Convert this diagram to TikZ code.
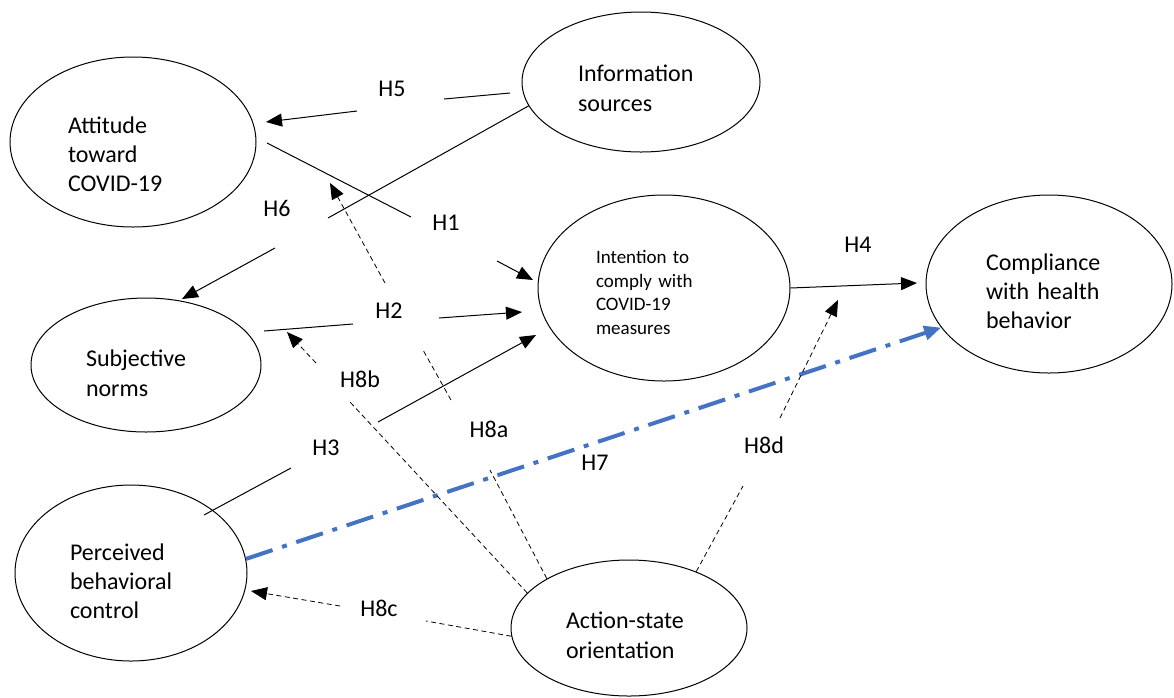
\documentclass[tikz,border=0pt]{standalone}
\usepackage{fontspec}
\setmainfont{Carlito}
\usetikzlibrary{shapes.geometric}
\usetikzlibrary{arrows.meta}
\definecolor{hblue}{HTML}{4472C4}

\begin{document}
\begin{tikzpicture}[x=1pt,y=-1pt,
  construct/.style={draw,ellipse,line width=1pt,inner sep=0pt,align=left,font=\fontsize{24}{29.3}\selectfont},
  lift/.style={execute at begin node={\rule{0pt}{#1}}},
  hyp/.style={inner sep=0pt,font=\fontsize{24}{29.3}\selectfont},
  effect/.style={line width=1pt},
  moderator/.style={line width=0.8pt,dash pattern=on 5pt off 3.5pt},
  tip/.style={-{Triangle[length=16pt,width=13pt]}}]
  \useasboundingbox (0,0) rectangle (1174,697);

  \node[construct,lift=41pt,minimum width=246pt,minimum height=170pt,text width=130pt] (att) at (133,142) {Attitude\\toward\\COVID-19};
  \node[construct,lift=29pt,minimum width=238pt,minimum height=140pt,text width=126pt] (info) at (641,82) {Information\\sources};
  \node[construct,lift=22pt,minimum width=252pt,minimum height=186pt,text width=136pt,font=\fontsize{19}{23.5}\selectfont] (intent) at (664,288) {Intention to\\comply with\\COVID-19\\measures};
  \node[construct,lift=31pt,minimum width=246pt,minimum height=178pt,text width=126pt] (comp) at (1049,284) {Compliance\\with health\\behavior};
  \node[construct,lift=33pt,minimum width=230pt,minimum height=134pt,text width=120pt] (subj) at (146,365) {Subjective\\norms};
  \node[construct,lift=33pt,minimum width=232pt,minimum height=176pt,text width=122pt] (pbc) at (131,573) {Perceived\\behavioral\\control};
  \node[construct,lift=31pt,minimum width=236pt,minimum height=136pt,text width=126pt] (aso) at (629,628) {Action-state\\orientation};

  \node[hyp] (H5) at (392,89) {H5};
  \node[hyp] (H6) at (277,208) {H6};
  \node[hyp] (H1) at (446,223) {H1};
  \node[hyp] (H2) at (389,311) {H2};
  \node[hyp] (H3) at (326,448) {H3};
  \node[hyp] (H4) at (858,245) {H4};
  \node[hyp] (H7) at (595,463) {H7};
  \node[hyp] (H8a) at (489,429) {H8a};
  \node[hyp] (H8b) at (360,379) {H8b};
  \node[hyp] (H8c) at (379,608) {H8c};
  \node[hyp] (H8d) at (764,445) {H8d};

  % gap ends of the broken paths
  \coordinate (h5a) at (510,93);
  \coordinate (h5b) at (444,99);
  \coordinate (h5c) at (357,111);
  \coordinate (h5d) at (266,122);
  \coordinate (h6b) at (328,218);
  \coordinate (h6c) at (275,248);
  \coordinate (h6d) at (182,299);
  \coordinate (h1a) at (267,143);
  \coordinate (h1b) at (411,217);
  \coordinate (h1c) at (497,261);
  \coordinate (h1d) at (533,280);
  \coordinate (h2a) at (264,331);
  \coordinate (h2b) at (353,324);
  \coordinate (h2c) at (439,318);
  \coordinate (h2d) at (522,312);
  \coordinate (h3a) at (204,515);
  \coordinate (h3b) at (291,468);
  \coordinate (h3c) at (378,422);
  \coordinate (h3d) at (536,335);
  \coordinate (h4d) at (917,283);
  \coordinate (h8ab) at (490,470);
  \coordinate (h8ac) at (451,400);
  \coordinate (h8ad) at (423,350);
  \coordinate (h8ae) at (385,283);
  \coordinate (h8af) at (330,183);
  \coordinate (h8bb) at (350,402);
  \coordinate (h8bc) at (316,363);
  \coordinate (h8bd) at (287,332);
  \coordinate (h8cb) at (426,621);
  \coordinate (h8cc) at (340,606);
  \coordinate (h8cd) at (251,591);
  \coordinate (h8db) at (743,486);
  \coordinate (h8dc) at (780,418);
  \coordinate (h8dd) at (838,300);

  \draw[effect](h5a)--(h5b);
  \draw[effect,tip](h5c)--(h5d);
  \draw[effect](info.192)--(h6b);
  \draw[effect,tip](h6c)--(h6d);
  \draw[effect](h1a)--(h1b);
  \draw[effect,tip](h1c)--(h1d);
  \draw[effect](h2a)--(h2b);
  \draw[effect,tip](h2c)--(h2d);
  \draw[effect](h3a)--(h3b);
  \draw[effect,tip](h3c)--(h3d);
  \draw[effect,tip](intent.east)--(h4d);
  \draw[line width=4pt,hblue,dash pattern=on 28pt off 10pt on 5pt off 10pt,-{Triangle[length=17pt,width=14pt]}](pbc.7)--(comp.202);

  \draw[moderator](aso.149)--(h8ab);
  \draw[moderator](h8ac)--(h8ad);
  \draw[moderator,tip](h8ae)--(h8af);
  \draw[moderator](aso.161)--(h8bb);
  \draw[moderator,tip](h8bc)--(h8bd);
  \draw[moderator](aso.184)--(h8cb);
  \draw[moderator,tip](h8cc)--(h8cd);
  \draw[moderator](aso.40)--(h8db);
  \draw[moderator,tip](h8dc)--(h8dd);
\end{tikzpicture}
\end{document}
